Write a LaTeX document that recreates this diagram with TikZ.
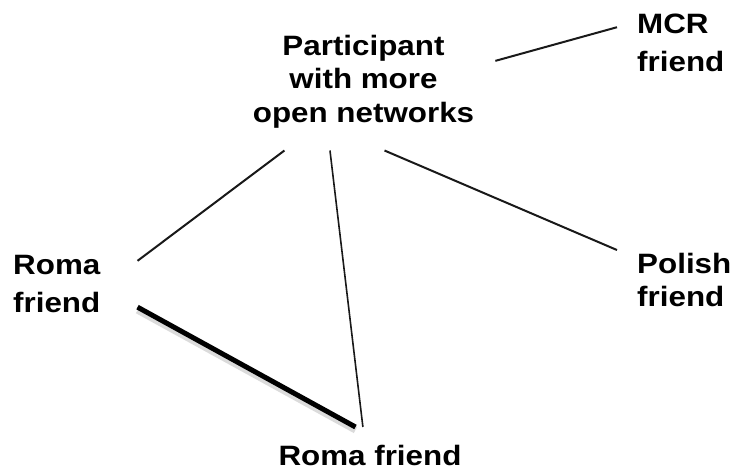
\documentclass[tikz,border=0pt]{standalone}
\usepackage{fontspec}
\newfontfamily\lblfont{Liberation Sans}[FakeStretch=1.12]
\usetikzlibrary{positioning}

\tikzset{
  lbl/.style={font=\lblfont\bfseries\fontsize{28}{38}\selectfont, inner sep=20pt},
  link/.style={line width=2pt, black!90},
  strong/.style={line width=5pt, black},
  halo/.style={line width=7pt, black!20, opacity=0.7}
}

\begin{document}
\begin{tikzpicture}[x=1pt,y=-1pt]
        \useasboundingbox (0,0) rectangle (733,472);

        \node[lbl, align=center, anchor=north, inner xsep=21pt, inner ysep=22pt,
              font=\lblfont\bfseries\fontsize{28}{33.5}\selectfont] (part) at (363.5,13)
              {Participant\\with more\\open networks};
        \node[lbl, align=left, anchor=north west] (mcr) at (617,-6) {MCR\\friend};
        \node[lbl, align=left, anchor=north west,
              font=\lblfont\bfseries\fontsize{28}{33}\selectfont] (polish) at (617,233) {Polish\\friend};
        \node[lbl, align=left, anchor=north west, inner xsep=37pt] (romaa) at (-24,235) {Roma\\friend};
        \node[lbl, anchor=north, inner ysep=18pt] (romab) at (370,427) {Roma friend};

        \draw[link] (part.9) -- (mcr.166);
        \draw[link] (part.221) -- (romaa.16);
        \draw[link, line width=1.6pt] (part.244) -- (romab.104);
        \draw[link] (part.287) -- (polish.156.5);

        \draw[halo] ([yshift=-3pt]romaa.344) -- ([yshift=-3pt]romab.117);
        \draw[strong] (romaa.344) -- (romab.117);
      \end{tikzpicture}
\end{document}
